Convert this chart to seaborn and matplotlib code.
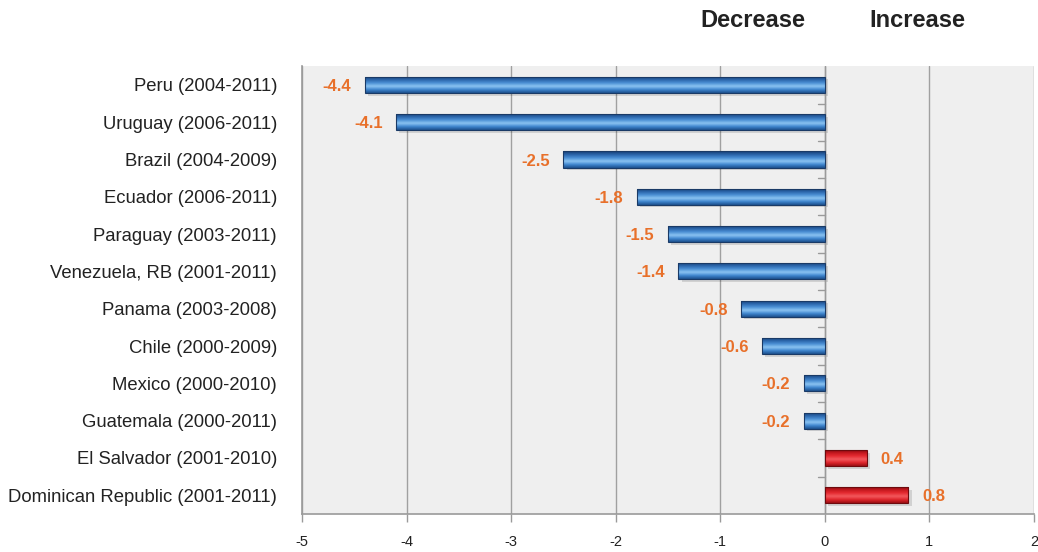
import numpy as np
import pandas as pd
import matplotlib
matplotlib.use("Agg")
import matplotlib.pyplot as plt
import seaborn as sns
from matplotlib.colors import LinearSegmentedColormap

countries = [
    "Peru (2004-2011)", "Uruguay (2006-2011)", "Brazil (2004-2009)",
    "Ecuador (2006-2011)", "Paraguay (2003-2011)", "Venezuela, RB (2001-2011)",
    "Panama (2003-2008)", "Chile (2000-2009)", "Mexico (2000-2010)",
    "Guatemala (2000-2011)", "El Salvador (2001-2010)",
    "Dominican Republic (2001-2011)",
]
change = [-4.4, -4.1, -2.5, -1.8, -1.5, -1.4, -0.8, -0.6, -0.2, -0.2, 0.4, 0.8]
x_ticks = [-5, -4, -3, -2, -1, 0, 1, 2]

df = pd.DataFrame({"country": countries, "change": change})
df["direction"] = np.where(df["change"] < 0, "Decrease", "Increase")

sns.set_theme(style="white")
plt.rcParams["font.family"] = ["Liberation Sans", "DejaVu Sans"]

fig = plt.figure(figsize=(10.38, 5.52), dpi=100)
ax = fig.add_axes([0.291, 0.069, 0.705, 0.811])
ax.set_facecolor("#efefef")

palette = {"Decrease": "#2e6db4", "Increase": "#d7191f"}
sns.barplot(data=df, y="country", x="change", hue="direction", palette=palette,
            order=countries, orient="h", width=0.43, dodge=False, legend=False,
            edgecolor="none", ax=ax, zorder=3)

ax.set_xlim(-5, 2)
ax.set_ylim(len(countries) - 0.5, -0.5)

# glossy vertical shading on each bar
blue_cmap = LinearSegmentedColormap.from_list(
    "b", ["#1d4f8c", "#3f86cf", "#8cc4f2", "#4a8fd4", "#2a63a8", "#173f73"])
red_cmap = LinearSegmentedColormap.from_list(
    "r", ["#9c0f14", "#e0262c", "#f35a5e", "#e52a30", "#c0161c", "#7a0b0f"])
grad = np.linspace(0, 1, 64).reshape(-1, 1)
for patch in list(ax.patches):
    x0, y0 = patch.get_x(), patch.get_y()
    w, h = patch.get_width(), patch.get_height()
    if w == 0:
        continue
    cmap = blue_cmap if w < 0 else red_cmap
    # soft drop shadow
    ax.add_patch(plt.Rectangle((x0 + 0.03, y0 + 0.07), w, h, color="#000000",
                               alpha=0.12, zorder=2, lw=0))
    im = ax.imshow(grad, cmap=cmap, aspect="auto",
                   extent=(min(x0, x0 + w), max(x0, x0 + w), y0, y0 + h),
                   zorder=4, interpolation="bicubic")
    im.set_clip_path(patch)
    ax.add_patch(plt.Rectangle((x0, y0), w, h, fill=False,
                               edgecolor="#1a3a66" if w < 0 else "#6e0a0d",
                               lw=0.8, zorder=5))
ax.set_xlim(-5, 2)
ax.set_ylim(len(countries) - 0.5, -0.5)

# value labels
for i, v in enumerate(change):
    if v < 0:
        ax.text(v - 0.13, i, f"{v:.1f}", ha="right", va="center_baseline",
                color="#e8702a", fontsize=12, fontweight="bold", zorder=6)
    else:
        ax.text(v + 0.13, i, f"{v:.1f}", ha="left", va="center_baseline",
                color="#e8702a", fontsize=12, fontweight="bold", zorder=6)

ax.set_xticks(x_ticks)
ax.set_xticklabels([str(t) for t in x_ticks], fontsize=10.5, color="#222222")
ax.tick_params(axis="x", length=6, width=1, color="#9a9a9a", pad=9,
               bottom=True, direction="out")
ax.tick_params(axis="y", length=0, labelsize=13.3, labelcolor="#222222", pad=18)
ax.grid(axis="x", color="#a0a0a0", lw=1, zorder=1)
ax.set_axisbelow(True)
ax.set_xlabel("")
ax.set_ylabel("")

for s in ["top", "right"]:
    ax.spines[s].set_visible(False)
for s in ["left", "bottom"]:
    ax.spines[s].set_color("#9a9a9a")
    ax.spines[s].set_linewidth(1.2)

# short ticks along the zero line between categories
for b in np.arange(0.5, len(countries) - 0.5, 1):
    ax.plot([-0.06, 0], [b, b], color="#9a9a9a", lw=1, zorder=2)
ax.axvline(0, color="#9a9a9a", lw=1, zorder=2)

fig.text(0.725, 0.962, "Decrease", ha="center", va="center",
         fontsize=17, fontweight="bold", color="#222222")
fig.text(0.884, 0.962, "Increase", ha="center", va="center",
         fontsize=17, fontweight="bold", color="#222222")

fig.savefig("out.png", dpi=100)
